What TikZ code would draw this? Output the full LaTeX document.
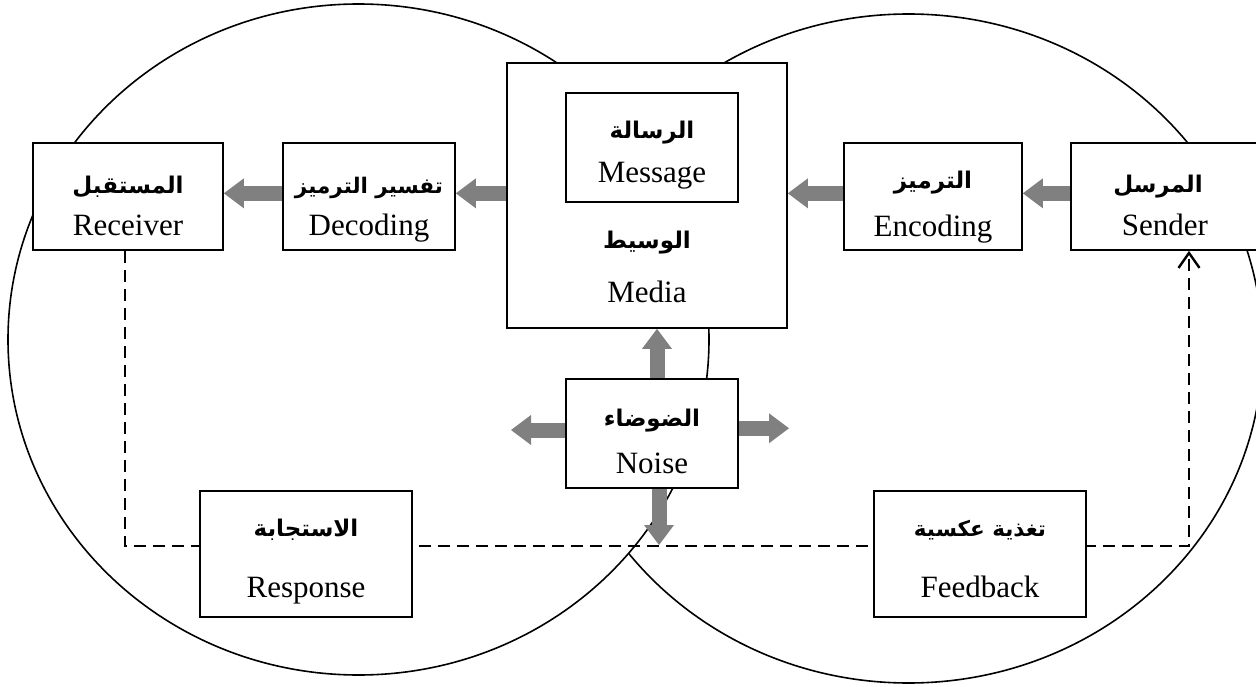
\documentclass[tikz,border=0pt]{standalone}
\usepackage{fontspec}
\setmainfont{Liberation Serif}
\newfontfamily\arabicfont[Script=Arabic]{DejaVu Sans}
\TeXXeTstate=1
\usetikzlibrary{arrows.meta}
\newcommand{\artxt}[1]{\beginR #1\endR}
\definecolor{flowgray}{RGB}{128,128,128}

\begin{document}
\begin{tikzpicture}[x=1pt,y=-1pt,
  box/.style={draw, line width=1.7pt, fill=white, inner sep=0pt, minimum width=#1},
  box/.default=180pt,
  lat/.style={inner sep=0pt, anchor=base, font=\fontsize{31}{37}\selectfont},
  arb/.style={inner sep=0pt, anchor=base, font=\arabicfont\bfseries\fontsize{23}{28}\selectfont},
  arbsmall/.style={arb, font=\arabicfont\bfseries\fontsize{21.5}{26}\selectfont},
  fat/.style={draw=flowgray, line width=15pt,
    -{Triangle[length=20pt,width=30pt,line width=0pt]}},
  fbline/.style={line width=2.6pt, dash pattern=on 12pt off 7pt,
    -{Straight Barb[length=15pt,width=21pt,line width=2.4pt]}},
  ring/.style={line width=1.6pt}]
\useasboundingbox (0,0) rectangle (1256,687);

% the two overlapping fields of experience
\draw[ring] (908.5,348.5) ellipse [x radius=354, y radius=334.5];
\filldraw[ring, fill=white] (358.5,339.5) ellipse [x radius=350.5, y radius=335.5];

% reference levels for the arrows
\coordinate (fbL) at (125,546);
\coordinate (fbR) at (1189,546);
\coordinate (row) at (0,193.3);
\coordinate (nUp) at (657,0);
\coordinate (nDn) at (659,0);
\coordinate (nLt) at (0,430);
\coordinate (nRt) at (0,428.3);
\coordinate (nLtEnd) at (511,430);
\coordinate (nRtEnd) at (789,428.3);
\coordinate (nDnEnd) at (659,545);

% boxes
\node[box=190pt, minimum height=107pt] (rec) at (128,196.5) {};
\node[box=172pt, minimum height=107pt] (dec) at (369,196.5) {};
\node[box=280pt, minimum height=265pt] (med) at (647,195.5) {};
\node[box=172pt, minimum height=109pt] (msg) at (652,147.5) {};
\node[box=178pt, minimum height=107pt] (enc) at (933,196.5) {};
\node[box=190pt, minimum height=107pt] (snd) at (1166,196.5) {};
\node[box=172pt, minimum height=109pt] (noi) at (652,433.5) {};

% feedback loop
\draw[fbline] (rec.south -| fbL) -- (fbL) -- (fbR) -- (snd.south -| fbR);

\node[box=212pt, minimum height=126pt] (rsp) at (306,554) {};
\node[box=212pt, minimum height=126pt] (fdb) at (980,554) {};

% message flow
\draw[fat] (snd.west |- row) -- (enc.east |- row);
\draw[fat] (enc.west |- row) -- (med.east |- row);
\draw[fat] (med.west |- row) -- (dec.east |- row);
\draw[fat] (dec.west |- row) -- (rec.east |- row);

% noise spreading out
\draw[fat] (noi.north -| nUp) -- (med.south -| nUp);
\draw[fat] (noi.west |- nLt) -- (nLtEnd);
\draw[fat] (noi.east |- nRt) -- (nRtEnd);
\draw[fat] (noi.south -| nDn) -- (nDnEnd);

% labels
\node[arb] (recA) at (128,194) {\artxt{المستقبل}};
\node[lat] (recL) at (128,236) {Receiver};
\node[arbsmall] (decA) at (369,194) {\artxt{تفسير الترميز}};
\node[lat] (decL) at (369,236) {Decoding};
\node[arb] (msgA) at (652,139) {\artxt{الرسالة}};
\node[lat] (msgL) at (652,183) {Message};
\node[arb] (medA) at (647,248) {\artxt{الوسيط}};
\node[lat] (medL) at (647,302) {Media};
\node[arb] (encA) at (933,189) {\artxt{الترميز}};
\node[lat] (encL) at (933,237) {Encoding};
\node[arb] (sndA) at (1158,193) {\artxt{المرسل}};
\node[lat] (sndL) at (1165,236) {Sender};
\node[arb] (noiA) at (652,426) {\artxt{الضوضاء}};
\node[lat] (noiL) at (652,473) {Noise};
\node[arb] (rspA) at (306,536) {\artxt{الاستجابة}};
\node[lat] (rspL) at (306,597) {Response};
\node[arbsmall] (fdbA) at (980,536) {\artxt{تغذية عكسية}};
\node[lat] (fdbL) at (980,597) {Feedback};
\end{tikzpicture}
\end{document}
